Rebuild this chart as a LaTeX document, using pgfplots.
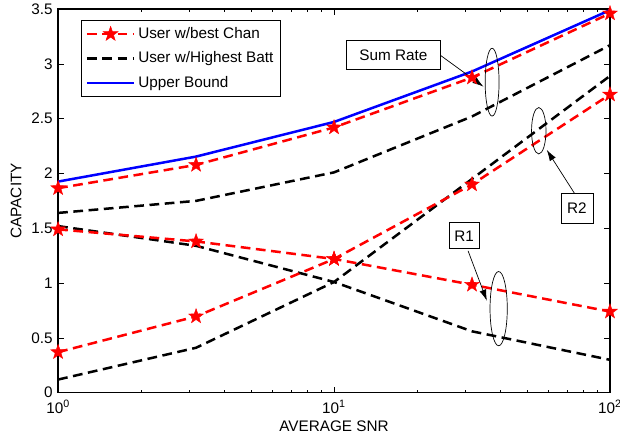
\documentclass[border=0pt]{standalone}
\usepackage{fontspec}
\setmainfont{Liberation Sans}
\usepackage{pgfplots}
\pgfplotsset{compat=1.18}
\usetikzlibrary{arrows.meta}
\pgfdeclareplotmark{pstar}{%
  \pgfpathmoveto{\pgfpointpolar{90}{\pgfplotmarksize}}%
  \pgfpathlineto{\pgfpointpolar{126}{0.4\pgfplotmarksize}}%
  \pgfpathlineto{\pgfpointpolar{162}{\pgfplotmarksize}}%
  \pgfpathlineto{\pgfpointpolar{198}{0.4\pgfplotmarksize}}%
  \pgfpathlineto{\pgfpointpolar{234}{\pgfplotmarksize}}%
  \pgfpathlineto{\pgfpointpolar{270}{0.4\pgfplotmarksize}}%
  \pgfpathlineto{\pgfpointpolar{306}{\pgfplotmarksize}}%
  \pgfpathlineto{\pgfpointpolar{342}{0.4\pgfplotmarksize}}%
  \pgfpathlineto{\pgfpointpolar{18}{\pgfplotmarksize}}%
  \pgfpathlineto{\pgfpointpolar{54}{0.4\pgfplotmarksize}}%
  \pgfpathclose
  \pgfusepathqfillstroke
}
\tikzset{
  rd/.style={red, line width=1.8pt, dash pattern=on 7pt off 4pt, mark=pstar, mark size=5.6pt, mark options={solid, fill=red, line width=0.3pt}},
  bk/.style={black, line width=1.8pt, dash pattern=on 7pt off 4pt},
  bl/.style={blue, line width=1.8pt},
}
\begin{document}
\fontsize{11pt}{13pt}\selectfont
\begin{tikzpicture}[font=\fontsize{11pt}{13pt}\selectfont]
\begin{axis}[
  name=ax,
  scale only axis,
  width=397pt, height=276pt,
  xmode=log, xmin=1, xmax=100, ymin=0, ymax=3.5,
  xtick={1,10,100},
  xticklabels={10\textsuperscript{0},10\textsuperscript{1},10\textsuperscript{2}},
  ytick={0,0.5,1,1.5,2,2.5,3,3.5},
  yticklabel style={/pgf/number format/assume math mode=true},
  xticklabel style={yshift=-1.5pt},
  tick align=inside,
  major tick length=4pt, minor tick length=2.3pt,
  tick style={black, line width=0.5pt},
  axis line style={line width=0.9pt},
  ytick pos=both, xtick pos=both,
  xlabel={AVERAGE SNR}, ylabel={CAPACITY},
  xlabel style={at={(axis description cs:0.5,-0.088)}, anchor=center},
  ylabel style={at={(axis description cs:-0.076,0.5)}, anchor=center},
  clip=false,
  legend cell align=left,
  legend image code/.code={\draw[mark repeat=2,mark phase=2] plot coordinates {(0pt,0pt) (17pt,0pt) (34pt,0pt)};},
  legend style={at={(axis description cs:0.042,0.971)}, anchor=north west, draw=black,
    inner xsep=3pt, inner ysep=3pt, row sep=4pt,
    /tikz/every even column/.append style={column sep=1pt}},
]
\addplot[rd] coordinates {(1,1.866) (3.162,2.078) (10,2.42) (31.62,2.875) (100,3.46)};
\addlegendentry{User w/best Chan}
\addplot[bk] coordinates {(1,1.64) (3.162,1.75) (10,2.01) (31.62,2.52) (100,3.17)};
\addlegendentry{User w/Highest Batt}
\addplot[bl] coordinates {(1,1.926) (3.162,2.154) (10,2.47) (31.62,2.93) (100,3.49)};
\addlegendentry{Upper Bound}
% R1
\addplot[bk, forget plot] coordinates {(1,1.52) (3.162,1.34) (10,1.01) (31.62,0.56) (100,0.30)};
\addplot[rd, forget plot] coordinates {(1,1.49) (3.162,1.38) (10,1.22) (31.62,0.985) (100,0.74)};
% R2
\addplot[bk, forget plot] coordinates {(1,0.12) (3.162,0.41) (10,1.01) (31.62,1.95) (100,2.89)};
\addplot[rd, forget plot] coordinates {(1,0.37) (3.162,0.696) (10,1.22) (31.62,1.90) (100,2.72)};
% annotations
\draw[line width=0.5pt] (axis cs:37.4,2.833) ellipse [x radius=5pt, y radius=24.4pt];
\draw[line width=0.5pt] (axis cs:55.2,2.39) ellipse [x radius=5.2pt, y radius=16.7pt];
\draw[line width=0.5pt] (axis cs:39.5,0.767) ellipse [x radius=6.2pt, y radius=26.7pt];
\draw[line width=0.5pt, -{Latex[length=8pt,width=5pt]}] (axis cs:24.2,3.081) -- (axis cs:34.8,2.792);
\draw[line width=0.5pt, -{Latex[length=8pt,width=5pt]}] (axis cs:74.7,1.811) -- (axis cs:59.0,2.215);
\draw[line width=0.5pt, -{Latex[length=8pt,width=5pt]}] (axis cs:30.6,1.294) -- (axis cs:35.8,0.839);
\node[draw, fill=white, line width=0.5pt, minimum width=67pt, minimum height=20.6pt, inner sep=0pt] at (axis cs:16.4,3.081) {Sum Rate};
\node[draw, fill=white, line width=0.5pt, minimum width=23pt, minimum height=21pt, inner sep=0pt] at (axis cs:75.9,1.682) {R2};
\node[draw, fill=white, line width=0.5pt, minimum width=21.6pt, minimum height=18.7pt, inner sep=0pt] at (axis cs:29.6,1.431) {R1};
\end{axis}
\pgfresetboundingbox
\path ([xshift=-41.8pt,yshift=-36pt]ax.south west) rectangle ([xshift=7.2pt,yshift=6.5pt]ax.north east);
\end{tikzpicture}
\end{document}
